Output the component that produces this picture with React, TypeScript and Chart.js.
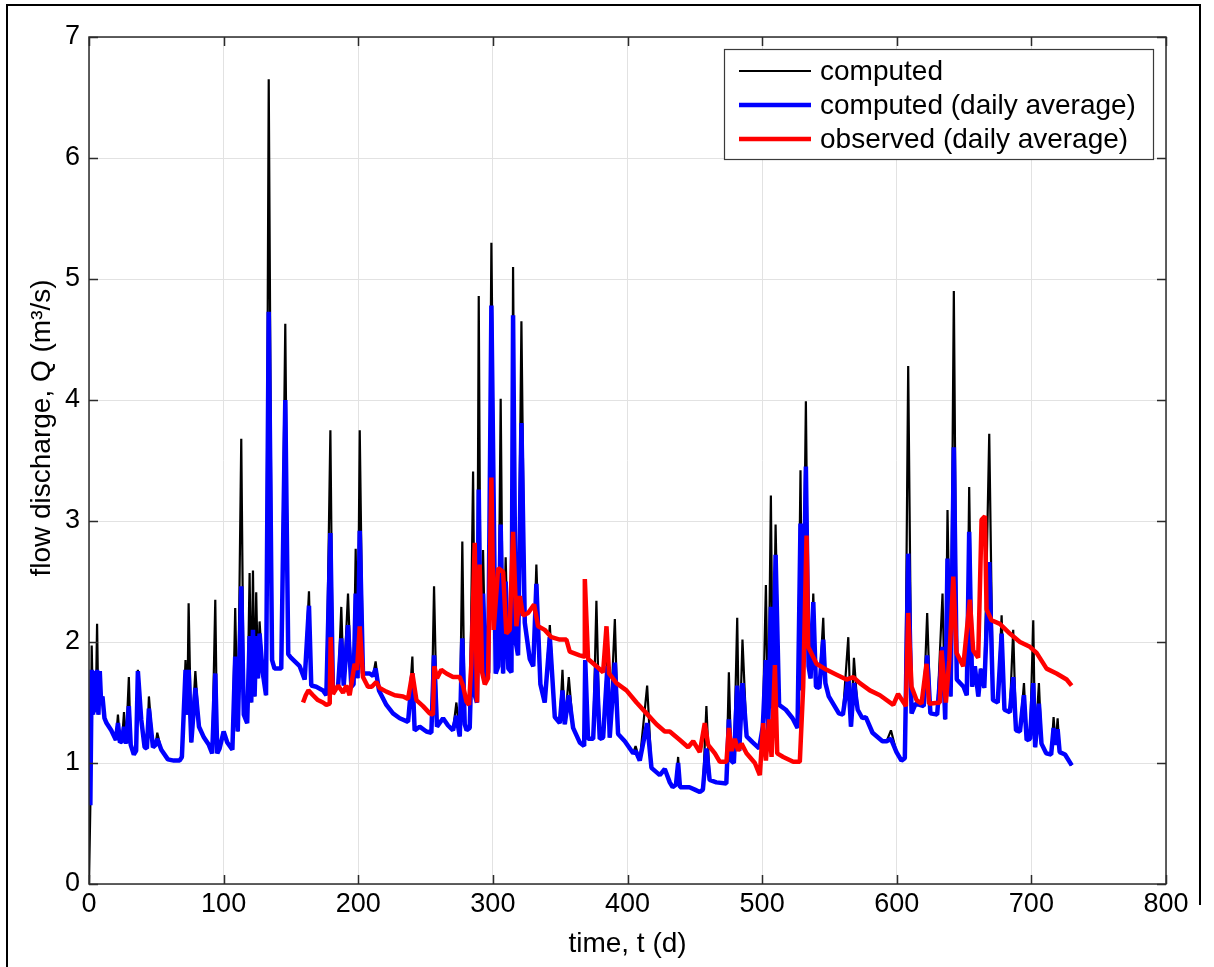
import React, { useEffect, useRef } from "react";
import { Chart, registerables } from "chart.js";

Chart.register(...registerables);

const W = 1214;
const H = 967;
const FONT = '"Liberation Sans", Arial, Helvetica, sans-serif';

// x axis ticks (days) and y axis ticks (m3/s)
const xTicks = [0, 100, 200, 300, 400, 500, 600, 700, 800];
const yTicks = [0, 1, 2, 3, 4, 5, 6, 7];

const seriesLabels = ["computed", "computed (daily average)", "observed (daily average)"];
const seriesColors = ["#000000", "#0000ff", "#ff0000"];

// computed discharge, daily average: [day, Q]
const computedDaily: [number, number][] = [
  [1, 0.65], [2, 1.77], [3, 1.40], [4, 1.76], [5, 1.42], [6, 1.77], [7, 1.40], [8, 1.76], [9, 1.50], [10, 1.55],
  [11.5, 1.37], [13, 1.33], [16.5, 1.27], [20, 1.19], [21.5, 1.33], [23, 1.17], [24.5, 1.18], [26, 1.30], [27.5, 1.16],
  [29.6, 1.47], [31, 1.15], [33.3, 1.07], [35, 1.10], [36.3, 1.76], [38.8, 1.36], [41.3, 1.13], [43, 1.12], [44.5, 1.45],
  [47.5, 1.13], [49.5, 1.15], [50.7, 1.20], [53.7, 1.11], [58.6, 1.03], [63, 1.02], [67.3, 1.02], [69, 1.05], [71.7, 1.77],
  [73, 1.40], [74, 1.77], [76, 1.17], [79, 1.62], [81.7, 1.30], [85.4, 1.21], [89, 1.15], [91.5, 1.08], [93.8, 1.74],
  [95.3, 1.08], [97, 1.12], [100, 1.26], [102.7, 1.17], [106.5, 1.11], [108.6, 1.88], [110.5, 1.26], [113.1, 2.46],
  [115, 1.40], [117.5, 1.33], [119.3, 2.05], [120.5, 1.50], [121.8, 2.10], [123, 1.55], [124.2, 2.05], [125.5, 1.70],
  [126.7, 2.07], [129, 1.75], [131.5, 1.56], [133.5, 4.73], [136, 1.85], [137.8, 1.78], [142.8, 1.78], [145.8, 4.00],
  [148, 1.90], [150, 1.87], [156.5, 1.80], [160.2, 1.69], [163.4, 2.30], [165.1, 1.64], [168.8, 1.63], [173.8, 1.60],
  [176.3, 1.56], [179.3, 2.90], [181.2, 1.60], [185, 1.63], [187.4, 2.03], [189.2, 1.64], [192.4, 2.14], [194.9, 1.63],
  [196.5, 1.65], [198.1, 2.40], [199.5, 1.70], [201.1, 2.92], [203.5, 1.74], [208.5, 1.74], [211, 1.72], [212.9, 1.78],
  [215.4, 1.60], [220.9, 1.48], [225.8, 1.41], [230.8, 1.37], [237, 1.34], [240.2, 1.74], [241.9, 1.27], [245.6, 1.30],
  [250.6, 1.26], [254.3, 1.25], [256.3, 1.89], [258.5, 1.30], [263, 1.37], [266.7, 1.31], [270.4, 1.27], [272.9, 1.39],
  [275.4, 1.22], [277.3, 2.03], [279.1, 1.32], [280.5, 1.27], [282.8, 1.29], [285.3, 2.30], [286.8, 1.55], [288.2, 1.50],
  [289.5, 3.26], [291, 1.75], [292.7, 2.40], [294.7, 1.68], [296.5, 1.75], [298.9, 4.78], [302.1, 1.74], [304, 1.80],
  [305.8, 2.97], [307.6, 1.74], [309.5, 2.50], [311.5, 1.78], [313.8, 1.75], [315, 4.70], [317, 2.00], [318.7, 1.89],
  [321.2, 3.81], [323.7, 2.16], [327.4, 1.86], [330, 1.80], [332.3, 2.48], [335.3, 1.65], [338.5, 1.50], [342.3, 2.04],
  [346, 1.38], [349.7, 1.33], [351.7, 1.60], [353.4, 1.32], [356.4, 1.56], [359.6, 1.29], [364.5, 1.17], [367.8, 1.14],
  [368.6, 1.85], [370.7, 1.20], [374.5, 1.20], [376.9, 1.81], [379.4, 1.20], [381.9, 1.21], [385.1, 1.80], [386.8, 1.21],
  [390.6, 1.83], [393, 1.24], [398, 1.18], [404.2, 1.08], [406, 1.10], [409.1, 1.02], [414.6, 1.33], [417.8, 0.96],
  [424, 0.90], [427.7, 0.95], [431.4, 0.84], [433.5, 0.80], [436, 0.82], [437.6, 1.00], [439, 0.80], [446, 0.80],
  [450, 0.78], [453.7, 0.76], [456, 0.78], [458.6, 1.12], [461, 0.86], [466, 0.84], [473.4, 0.83], [475.3, 1.36],
  [477, 1.02], [479, 1.00], [481.5, 1.64], [483, 1.10], [485.4, 1.66], [488.5, 1.22], [493, 1.17], [497.8, 1.12],
  [500.5, 1.30], [502.8, 1.85], [504.5, 1.25], [506.5, 2.29], [508, 1.45], [510, 2.72], [512.6, 1.48], [517.6, 1.44],
  [522.6, 1.37], [526.3, 1.29], [528.5, 2.98], [530, 1.60], [532.5, 3.45], [534.5, 1.80], [536, 1.70], [538, 2.33],
  [540, 1.63], [542.5, 1.62], [545.4, 2.02], [547, 1.66], [549.5, 1.55], [557, 1.41], [560, 1.40], [564, 1.71],
  [566, 1.30], [568.2, 1.66], [571, 1.44], [574.5, 1.37], [577, 1.38], [582, 1.25], [589.4, 1.18], [592.5, 1.18],
  [595.7, 1.20], [599.8, 1.09], [603.5, 1.02], [606, 1.04], [608.5, 2.73], [611, 1.41], [614, 1.49], [620, 1.47],
  [622.6, 1.89], [625, 1.41], [630, 1.40], [634, 1.96], [636, 1.36], [637.7, 2.69], [640, 1.55], [642.4, 3.61],
  [644.6, 1.69], [649.6, 1.63], [652, 1.56], [653.8, 2.91], [656, 1.63], [658, 1.80], [660.6, 1.55], [662.5, 1.78],
  [665, 1.62], [668.7, 2.66], [671.5, 1.52], [675, 1.50], [677.9, 2.07], [680, 1.44], [684, 1.42], [686.5, 1.71],
  [688.6, 1.27], [691.5, 1.26], [694.5, 1.56], [696.5, 1.19], [699, 1.20], [701.4, 1.66], [702.8, 1.13], [705.6, 1.49],
  [707.5, 1.16], [711, 1.08], [714.7, 1.07], [716.5, 1.29], [718, 1.15], [719.5, 1.28], [721, 1.09], [725, 1.07],
  [730, 0.98],
];

// instantaneous computed peaks reached above the daily average: [day, Q]
const computedPeaks: [number, number][] = [
  [2, 1.97], [6, 2.15], [21.5, 1.40], [26, 1.42], [29.6, 1.71], [36.3, 1.77], [44.5, 1.55], [50.7, 1.25], [71.7, 1.85],
  [74, 2.32], [79, 1.76], [93.8, 2.35], [108.6, 2.28], [113.1, 3.68], [119.3, 2.57], [121.8, 2.59], [124.2, 2.41],
  [126.7, 2.17], [133.5, 6.65], [145.8, 4.63], [163.4, 2.42], [179.3, 3.75], [187.4, 2.29], [192.4, 2.40], [198.1, 2.77],
  [201.1, 3.75], [212.9, 1.84], [240.2, 1.88], [256.3, 2.46], [272.9, 1.50], [277.3, 2.83], [285.3, 3.41], [289.5, 4.86],
  [292.7, 2.76], [298.9, 5.30], [305.8, 4.01], [309.5, 2.70], [315, 5.10], [321.2, 4.65], [332.3, 2.64], [342.3, 2.14],
  [351.7, 1.77], [356.4, 1.71], [376.9, 2.34], [385.1, 1.90], [390.6, 2.19], [406, 1.14], [414.6, 1.64], [437.6, 1.05],
  [458.6, 1.47], [475.3, 1.75], [481.5, 2.20], [485.4, 2.02], [502.8, 2.47], [506.5, 3.21], [510, 2.97], [528.5, 3.42],
  [532.5, 3.99], [538, 2.40], [545.4, 2.20], [564, 2.04], [568.2, 1.87], [595.7, 1.27], [608.5, 4.28], [622.6, 2.24],
  [634, 2.40], [637.7, 3.09], [642.4, 4.90], [653.8, 3.28], [668.7, 3.72], [677.9, 2.22], [686.5, 2.10], [694.5, 1.66],
  [701.4, 2.18], [705.6, 1.66], [716.5, 1.38], [719.5, 1.37],
];

// computed series starting value at t = 0
const computedStart: [number, number] = [0, 0];

// observed discharge, daily average: [day, Q]
const observedDaily: [number, number][] = [
  [159, 1.50], [161, 1.56], [163, 1.60], [166.4, 1.56], [170, 1.52], [173.8, 1.50], [176.3, 1.48], [178.8, 1.49],
  [179.5, 2.04], [181.2, 1.57], [185, 1.64], [188.7, 1.58], [191.1, 1.64], [193.6, 1.56], [197.3, 1.82], [199.1, 1.77],
  [201.1, 2.13], [203.5, 1.71], [207.2, 1.63], [210, 1.63], [213.4, 1.67], [215.9, 1.62], [220.9, 1.59], [227.1, 1.56],
  [233.3, 1.55], [237, 1.53], [240.2, 1.74], [243.2, 1.52], [248.1, 1.47], [253.1, 1.41], [255.5, 1.40], [256.5, 1.80],
  [258.5, 1.70], [261.7, 1.77], [265.5, 1.74], [270.4, 1.71], [275.4, 1.71], [277.8, 1.64], [280.3, 1.51], [282.3, 1.48],
  [284, 1.82], [286.5, 2.82], [288.2, 1.50], [290.2, 2.64], [292, 1.75], [294, 1.65], [296.4, 1.70], [298.9, 3.36],
  [300.6, 2.10], [303.9, 2.61], [307.6, 2.58], [310, 2.07], [312.5, 2.10], [315, 2.91], [317.5, 2.13], [320, 2.38],
  [322.4, 2.22], [326.2, 2.24], [330.6, 2.31], [333.6, 2.13], [338.5, 2.10], [343.5, 2.04], [349.7, 2.02], [354.6, 2.02],
  [357.1, 1.92], [364.5, 1.89], [367.8, 1.88], [368.3, 2.52], [370.7, 1.86], [376.9, 1.80], [381.9, 1.75], [384.4, 2.13],
  [386.3, 1.74], [391.8, 1.66], [399.2, 1.60], [406.7, 1.50], [414.1, 1.41], [421.5, 1.32], [427.7, 1.26], [431.4, 1.26],
  [438.9, 1.19], [445, 1.13], [448.8, 1.18], [453.7, 1.09], [457.4, 1.33], [459.9, 1.15], [464.9, 1.08], [468.6, 1.01],
  [473.5, 1.01], [475.3, 1.29], [477.3, 1.10], [479.7, 1.20], [482.2, 1.10], [484.7, 1.16], [488.4, 1.08], [494.6, 1.00],
  [498.3, 0.90], [500.8, 1.33], [502.8, 1.02], [505.2, 1.36], [507, 1.05], [509.5, 1.81], [511.2, 1.08], [515.7, 1.05],
  [523.1, 1.01], [528, 1.01], [530.5, 1.63], [533, 2.88], [534.2, 1.96], [540.4, 1.82], [547.9, 1.77], [555.3, 1.73],
  [562.7, 1.69], [567.7, 1.71], [572.6, 1.66], [580, 1.60], [587.5, 1.56], [597.4, 1.48], [601, 1.57], [606.8, 1.47],
  [608.5, 2.24], [611, 1.63], [614.7, 1.52], [618.4, 1.49], [622.1, 1.82], [624, 1.49], [632, 1.50], [633.3, 1.93],
  [636.5, 1.50], [639, 1.85], [642, 2.54], [644.4, 1.91], [649.4, 1.80], [654.3, 2.35], [656.8, 1.93], [660.5, 1.87],
  [663, 3.01], [665.5, 3.04], [666.7, 2.27], [670.4, 2.18], [676.6, 2.15], [684, 2.07], [691.5, 2.00], [698.9, 1.96],
  [703.9, 1.91], [711.3, 1.78], [718.7, 1.74], [726.2, 1.69], [729.9, 1.64],
];

const toXY = (arr: [number, number][]) => arr.map(([x, y]) => ({ x, y }));

function buildComputed() {
  const peakMap = new Map<number, number>(computedPeaks);
  const pts = computedDaily.map(([d, v]) => ({ x: d, y: peakMap.has(d) ? (peakMap.get(d) as number) : v }));
  return [{ x: computedStart[0], y: computedStart[1] }, ...pts];
}

const framePlugin = {
  id: "matlabFrame",
  beforeDraw(chart: any) {
    const ctx = chart.ctx;
    ctx.save();
    ctx.fillStyle = "#ffffff";
    ctx.fillRect(0, 0, chart.width, chart.height);
    ctx.restore();
  },
  afterDraw(chart: any) {
    const ctx: CanvasRenderingContext2D = chart.ctx;
    const a = chart.chartArea;
    const xs = chart.scales.x;
    const ys = chart.scales.y;
    ctx.save();

    // plot box
    ctx.strokeStyle = "#2b2b2b";
    ctx.lineWidth = 1.5;
    ctx.strokeRect(a.left, a.top, a.right - a.left, a.bottom - a.top);

    // inward tick marks on all four sides
    const tl = 9;
    ctx.beginPath();
    for (const v of xTicks) {
      const px = Math.round(xs.getPixelForValue(v)) + 0.5;
      ctx.moveTo(px, a.bottom);
      ctx.lineTo(px, a.bottom - tl);
      ctx.moveTo(px, a.top);
      ctx.lineTo(px, a.top + tl);
    }
    for (const v of yTicks) {
      const py = Math.round(ys.getPixelForValue(v)) + 0.5;
      ctx.moveTo(a.left, py);
      ctx.lineTo(a.left + tl, py);
      ctx.moveTo(a.right, py);
      ctx.lineTo(a.right - tl, py);
    }
    ctx.stroke();

    // legend
    const lx = 724, ly = 49, lw = 429, lh = 110;
    ctx.fillStyle = "#ffffff";
    ctx.fillRect(lx, ly, lw, lh);
    ctx.strokeStyle = "#3a3a3a";
    ctx.lineWidth = 1.2;
    ctx.strokeRect(lx + 0.5, ly + 0.5, lw, lh);
    const rows = [71, 105, 139];
    const widths = [2.2, 4.5, 4.5];
    ctx.font = `28px ${FONT}`;
    ctx.textBaseline = "middle";
    ctx.textAlign = "left";
    seriesLabels.forEach((lab, i) => {
      ctx.strokeStyle = seriesColors[i];
      ctx.lineWidth = widths[i];
      ctx.beginPath();
      ctx.moveTo(739, rows[i]);
      ctx.lineTo(811, rows[i]);
      ctx.stroke();
      ctx.fillStyle = "#000000";
      ctx.fillText(lab, 820, rows[i] + 1);
    });

    // axis titles
    ctx.fillStyle = "#000000";
    ctx.font = `28px ${FONT}`;
    ctx.textAlign = "center";
    ctx.textBaseline = "middle";
    ctx.fillText("time, t (d)", (a.left + a.right) / 2, 944);
    ctx.save();
    ctx.translate(42, 428);
    ctx.rotate(-Math.PI / 2);
    ctx.fillText("flow discharge, Q (m³/s)", 0, 0);
    ctx.restore();

    // outer figure frame
    ctx.strokeStyle = "#000000";
    ctx.lineWidth = 2;
    ctx.beginPath();
    ctx.moveTo(7, H);
    ctx.lineTo(7, 5);
    ctx.lineTo(1200, 5);
    ctx.lineTo(1200, 905);
    ctx.stroke();

    ctx.restore();
  },
};

export default function App() {
  const ref = useRef<HTMLCanvasElement | null>(null);

  useEffect(() => {
    if (!ref.current) return;
    const tickFont = { family: FONT, size: 27 };
    const chart = new Chart(ref.current, {
      type: "line",
      data: {
        datasets: [
          {
            label: seriesLabels[0],
            data: buildComputed(),
            borderColor: seriesColors[0],
            borderWidth: 2.2,
            order: 3,
          },
          {
            label: seriesLabels[1],
            data: toXY(computedDaily),
            borderColor: seriesColors[1],
            borderWidth: 4.5,
            order: 2,
          },
          {
            label: seriesLabels[2],
            data: toXY(observedDaily),
            borderColor: seriesColors[2],
            borderWidth: 4.5,
            order: 1,
          },
        ],
      },
      options: {
        responsive: false,
        animation: false,
        devicePixelRatio: 1,
        events: [],
        layout: { padding: { left: 0, top: 37, right: 48, bottom: 0 } },
        elements: {
          point: { radius: 0 },
          line: { tension: 0, borderJoinStyle: "bevel", borderCapStyle: "butt", fill: false },
        },
        plugins: { legend: { display: false }, tooltip: { enabled: false }, title: { display: false } },
        scales: {
          x: {
            type: "linear",
            min: 0,
            max: 800,
            afterBuildTicks: (s: any) => {
              s.ticks = xTicks.map((v) => ({ value: v }));
            },
            ticks: { font: tickFont, color: "#000000", padding: 4, maxRotation: 0, autoSkip: false },
            grid: { color: "#e2e2e2", lineWidth: 1, drawTicks: false },
            border: { display: false },
            afterFit: (s: any) => {
              s.height = H - 884;
            },
          },
          y: {
            type: "linear",
            min: 0,
            max: 7,
            afterBuildTicks: (s: any) => {
              s.ticks = yTicks.map((v) => ({ value: v }));
            },
            ticks: { font: tickFont, color: "#000000", padding: 9, autoSkip: false },
            grid: { color: "#e2e2e2", lineWidth: 1, drawTicks: false },
            border: { display: false },
            afterFit: (s: any) => {
              s.width = 89;
            },
          },
        },
      },
      plugins: [framePlugin],
    } as any);
    return () => chart.destroy();
  }, []);

  return (
    <div style={{ position: "absolute", left: 0, top: 0, width: W, height: H, background: "#ffffff" }}>
      <canvas ref={ref} width={W} height={H} style={{ display: "block", width: W, height: H }} />
    </div>
  );
}
